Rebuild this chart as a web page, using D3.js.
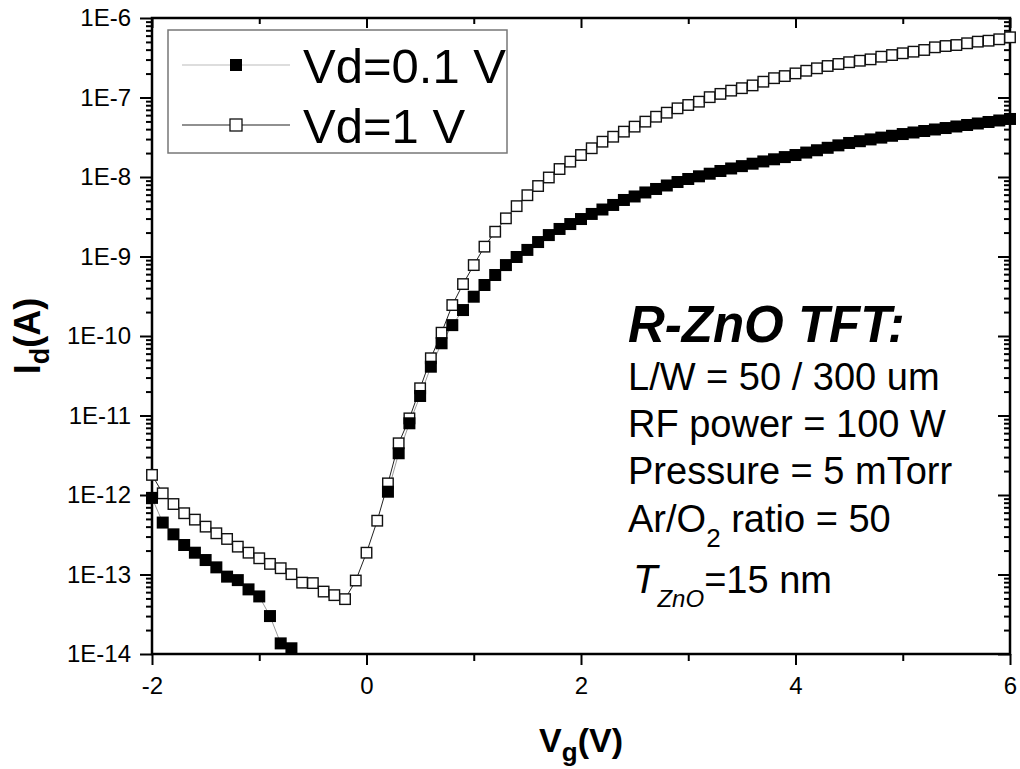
<!DOCTYPE html>
<html>
<head>
<meta charset="utf-8">
<script src="https://cdn.jsdelivr.net/npm/d3@7"></script>
<style>
  body { margin: 0; background: #fff; }
  svg { display: block; }
</style>
</head>
<body>
<svg></svg>
<script>
const width = 1020;
const height = 769;
const margin = { top: 18, right: 10, bottom: 115, left: 152 };

// gate voltage sweep (V)
const vg = [-2.0, -1.9, -1.8, -1.7, -1.6, -1.5, -1.4, -1.3, -1.2, -1.1,
  -1.0, -0.9, -0.8, -0.7, -0.6, -0.5, -0.4, -0.3, -0.2, -0.1,
  0.0, 0.1, 0.2, 0.3, 0.4, 0.5, 0.6, 0.7, 0.8, 0.9,
  1.0, 1.1, 1.2, 1.3, 1.4, 1.5, 1.6, 1.7, 1.8, 1.9,
  2.0, 2.1, 2.2, 2.3, 2.4, 2.5, 2.6, 2.7, 2.8, 2.9,
  3.0, 3.1, 3.2, 3.3, 3.4, 3.5, 3.6, 3.7, 3.8, 3.9,
  4.0, 4.1, 4.2, 4.3, 4.4, 4.5, 4.6, 4.7, 4.8, 4.9,
  5.0, 5.1, 5.2, 5.3, 5.4, 5.5, 5.6, 5.7, 5.8, 5.9, 6.0];

// drain current at Vd = 0.1 V (A), null = below 1E-14
const idLow = [9.2e-13, 4.5e-13, 3.2e-13, 2.35e-13, 1.88e-13, 1.52e-13, 1.23e-13, 9.4e-14, 8.5e-14, 6.5e-14,
  5.3e-14, 3.0e-14, 1.36e-14, 1.18e-14, null, null, null, null, null, null,
  null, null, 1.10e-12, 3.35e-12, 7.98e-12, 1.76e-11, 4.11e-11, 8.1e-11, 1.37e-10, 2.12e-10,
  3.12e-10, 4.38e-10, 5.85e-10, 7.8e-10, 9.86e-10, 1.21e-9, 1.52e-9, 1.86e-9, 2.22e-9, 2.56e-9,
  2.96e-9, 3.43e-9, 3.9e-9, 4.45e-9, 5.14e-9, 5.69e-9, 6.39e-9, 7.07e-9, 7.82e-9, 8.65e-9,
  9.44e-9, 1.02e-8, 1.10e-8, 1.19e-8, 1.28e-8, 1.37e-8, 1.47e-8, 1.57e-8, 1.67e-8, 1.78e-8,
  1.89e-8, 2.03e-8, 2.17e-8, 2.33e-8, 2.5e-8, 2.68e-8, 2.82e-8, 2.97e-8, 3.13e-8, 3.3e-8,
  3.47e-8, 3.63e-8, 3.79e-8, 3.96e-8, 4.13e-8, 4.32e-8, 4.51e-8, 4.71e-8, 4.92e-8, 5.14e-8, 5.37e-8];

// drain current at Vd = 1 V (A)
const idHigh = [1.79e-12, 1.05e-12, 7.7e-13, 5.9e-13, 4.9e-13, 4.0e-13, 3.3e-13, 2.8e-13, 2.24e-13, 1.88e-13,
  1.6e-13, 1.36e-13, 1.2e-13, 1.01e-13, 7.9e-14, 7.8e-14, 6.1e-14, 5.5e-14, 4.9e-14, 8.4e-14,
  1.88e-13, 4.75e-13, 1.40e-12, 4.47e-12, 9.2e-12, 2.2e-11, 5.25e-11, 1.10e-10, 2.45e-10, 4.5e-10,
  7.8e-10, 1.33e-9, 2.05e-9, 3.02e-9, 4.3e-9, 5.9e-9, 7.7e-9, 9.86e-9, 1.26e-8, 1.56e-8,
  1.89e-8, 2.30e-8, 2.78e-8, 3.21e-8, 3.72e-8, 4.3e-8, 4.97e-8, 5.73e-8, 6.44e-8, 7.31e-8,
  8.05e-8, 8.86e-8, 1.01e-7, 1.11e-7, 1.22e-7, 1.31e-7, 1.42e-7, 1.58e-7, 1.75e-7, 1.86e-7,
  2.01e-7, 2.17e-7, 2.33e-7, 2.49e-7, 2.64e-7, 2.78e-7, 2.9e-7, 3.02e-7, 3.26e-7, 3.42e-7,
  3.6e-7, 3.77e-7, 3.96e-7, 4.28e-7, 4.44e-7, 4.57e-7, 4.81e-7, 5.04e-7, 5.18e-7, 5.4e-7, 5.72e-7];

const xMajor = [-2, 0, 2, 4, 6];
const xMinor = [-1, 1, 3, 5];
const yMajor = [1e-14, 1e-13, 1e-12, 1e-11, 1e-10, 1e-9, 1e-8, 1e-7, 1e-6];
const yLabels = ["1E-14", "1E-13", "1E-12", "1E-11", "1E-10", "1E-9", "1E-8", "1E-7", "1E-6"];

const series = [
  { name: "Vd=0.1 V", values: idLow, filled: true, line: "#9a9a9a" },
  { name: "Vd=1 V", values: idHigh, filled: false, line: "#222" }
];

const infoLines = ["L/W = 50 / 300 um", "RF power = 100 W", "Pressure = 5 mTorr"];

const font = '"Liberation Sans", Arial, sans-serif';

const svg = d3.select("svg")
  .attr("width", width)
  .attr("height", height)
  .style("font-family", font);

const x = d3.scaleLinear()
  .domain([-2, 6])
  .range([margin.left, width - margin.right]);

const y = d3.scaleLog()
  .domain([1e-14, 1e-6])
  .range([height - margin.bottom, margin.top]);

const x0 = margin.left, x1 = width - margin.right;
const y0 = height - margin.bottom, y1 = margin.top;

// minor log ticks
const yMinor = [];
yMajor.slice(0, -1).forEach(d => {
  for (let k = 2; k <= 9; k++) yMinor.push(d * k);
});

function styleAxis(g) {
  g.select(".domain").remove();
  g.selectAll("line").attr("stroke", "#000").attr("stroke-width", 2);
}

// bottom
svg.append("g").attr("transform", `translate(0,${y0})`)
  .call(d3.axisBottom(x).tickValues(xMajor).tickSize(11).tickPadding(12)
    .tickFormat(d => d))
  .call(styleAxis)
  .call(g => g.selectAll("text").attr("font-size", 24).attr("font-family", font).attr("fill", "#000"));
svg.append("g").attr("transform", `translate(0,${y0})`)
  .call(d3.axisBottom(x).tickValues(xMinor).tickSize(7).tickFormat(""))
  .call(styleAxis);
// top (inward)
svg.append("g").attr("transform", `translate(0,${y1})`)
  .call(d3.axisBottom(x).tickValues(xMajor).tickSize(10).tickFormat(""))
  .call(styleAxis);
svg.append("g").attr("transform", `translate(0,${y1})`)
  .call(d3.axisBottom(x).tickValues(xMinor).tickSize(6).tickFormat(""))
  .call(styleAxis);

// left
svg.append("g").attr("transform", `translate(${x0},0)`)
  .call(d3.axisLeft(y).tickValues(yMajor).tickSize(12).tickPadding(9)
    .tickFormat((d, i) => yLabels[i]))
  .call(styleAxis)
  .call(g => g.selectAll("text").attr("font-size", 24).attr("font-family", font).attr("fill", "#000"));
svg.append("g").attr("transform", `translate(${x0},0)`)
  .call(d3.axisLeft(y).tickValues(yMinor).tickSize(6).tickFormat(""))
  .call(styleAxis);
// right (inward)
svg.append("g").attr("transform", `translate(${x1},0)`)
  .call(d3.axisLeft(y).tickValues(yMajor).tickSize(12).tickFormat(""))
  .call(styleAxis);
svg.append("g").attr("transform", `translate(${x1},0)`)
  .call(d3.axisLeft(y).tickValues(yMinor).tickSize(6).tickFormat(""))
  .call(styleAxis);

// frame
svg.append("rect")
  .attr("x", x0).attr("y", y1)
  .attr("width", x1 - x0).attr("height", y0 - y1)
  .attr("fill", "none").attr("stroke", "#000").attr("stroke-width", 2.5);

svg.append("clipPath").attr("id", "plot")
  .append("rect").attr("x", x0).attr("y", y1)
  .attr("width", x1 - x0).attr("height", y0 - y1);

const line = d3.line()
  .defined(d => d[1] != null)
  .x(d => x(d[0]))
  .y(d => y(d[1]));

// draw open series first, filled on top
const order = [series[1], series[0]];

order.forEach(s => {
  const pts = vg.map((v, i) => [v, s.values[i]]);
  svg.append("path")
    .datum(pts)
    .attr("clip-path", "url(#plot)")
    .attr("fill", "none")
    .attr("stroke", s.line)
    .attr("stroke-width", 1)
    .attr("d", line);
});

order.forEach(s => {
  const pts = vg.map((v, i) => [v, s.values[i]]).filter(d => d[1] != null);
  const sz = s.filled ? 12 : 10.5;
  svg.append("g").selectAll("rect")
    .data(pts)
    .enter()
    .append("rect")
    .attr("x", d => x(d[0]) - sz / 2)
    .attr("y", d => y(d[1]) - sz / 2)
    .attr("width", sz)
    .attr("height", sz)
    .attr("fill", s.filled ? "#000" : "#fff")
    .attr("stroke", s.filled ? "none" : "#111")
    .attr("stroke-width", 1.4);
});

// legend
const legend = svg.append("g");
legend.append("rect")
  .attr("x", 168).attr("y", 30)
  .attr("width", 339).attr("height", 123)
  .attr("fill", "#fff").attr("stroke", "#777").attr("stroke-width", 1.5);

series.forEach((s, i) => {
  const ly = 65 + i * 60;
  legend.append("line")
    .attr("x1", 182).attr("x2", 290)
    .attr("y1", ly).attr("y2", ly)
    .attr("stroke", s.filled ? "#bbb" : "#222").attr("stroke-width", 1.2);
  legend.append("rect")
    .attr("x", 236 - 6).attr("y", ly - 6)
    .attr("width", 12).attr("height", 12)
    .attr("fill", s.filled ? "#000" : "#fff")
    .attr("stroke", s.filled ? "none" : "#111").attr("stroke-width", 1.3);
  legend.append("text")
    .attr("x", 303).attr("y", ly + 18)
    .attr("font-size", 49)
    .text(s.name);
});

// annotation
const note = svg.append("g");
note.append("text")
  .attr("x", 628).attr("y", 342)
  .attr("font-size", 51).attr("font-weight", "bold").attr("font-style", "italic")
  .text("R-ZnO TFT:");

infoLines.forEach((t, i) => {
  note.append("text")
    .attr("x", 628).attr("y", 390 + i * 47)
    .attr("font-size", 38)
    .text(t);
});

const ar = note.append("text").attr("x", 628).attr("y", 532).attr("font-size", 38);
ar.append("tspan").text("Ar/O");
ar.append("tspan").attr("font-size", 26).attr("dy", 15).text("2");
ar.append("tspan").attr("dy", -15).text(" ratio = 50");

const tz = note.append("text").attr("x", 633).attr("y", 593).attr("font-size", 40);
tz.append("tspan").attr("font-style", "italic").text("T");
tz.append("tspan").attr("font-style", "italic").attr("font-size", 24).attr("dy", 14).text("ZnO");
tz.append("tspan").attr("dy", -14).attr("font-size", 38).text("=15 nm");

// axis titles
const xt = svg.append("text")
  .attr("x", (x0 + x1) / 2).attr("y", 752)
  .attr("text-anchor", "middle")
  .attr("font-size", 34).attr("font-weight", "bold");
xt.append("tspan").text("V");
xt.append("tspan").attr("font-size", 26).attr("dy", 9).text("g");
xt.append("tspan").attr("dy", -9).text("(V)");

const yt = svg.append("text")
  .attr("transform", `translate(40,${(y0 + y1) / 2}) rotate(-90)`)
  .attr("text-anchor", "middle")
  .attr("font-size", 36).attr("font-weight", "bold");
yt.append("tspan").text("I");
yt.append("tspan").attr("font-size", 27).attr("dy", 9).text("d");
yt.append("tspan").attr("dy", -9).text("(A)");
</script>
</body>
</html>
